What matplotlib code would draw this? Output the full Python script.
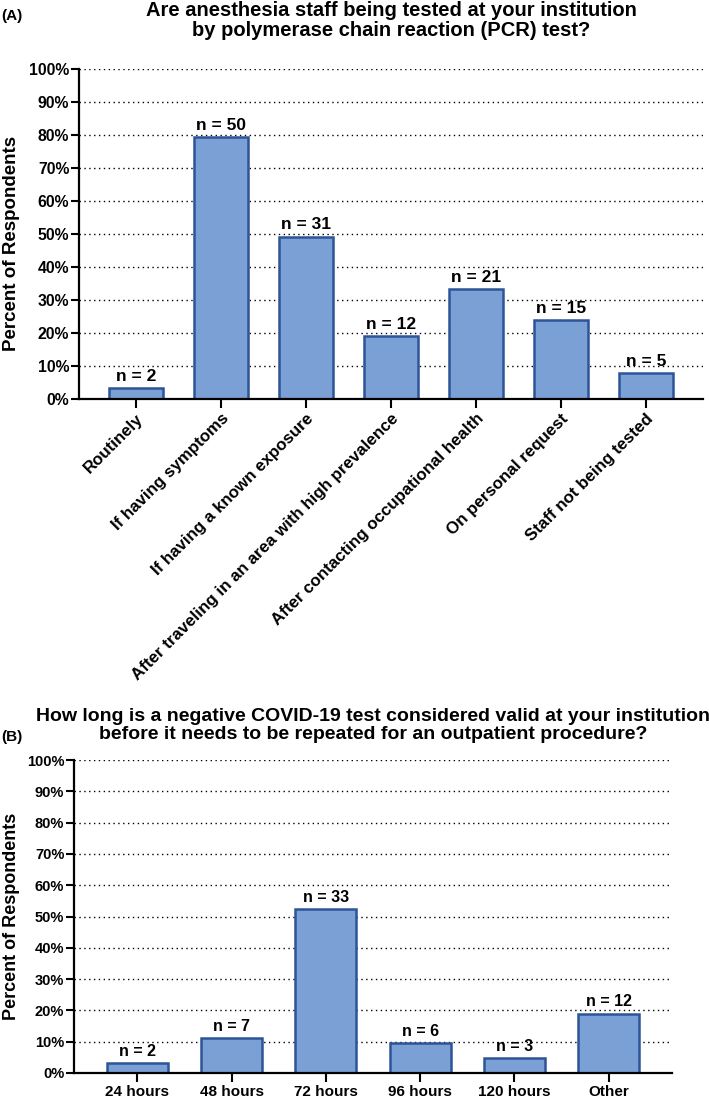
import matplotlib
matplotlib.use('Agg')
import matplotlib.pyplot as plt
from matplotlib.ticker import PercentFormatter

plt.rcParams['font.family'] = ['Liberation Sans', 'DejaVu Sans']
plt.rcParams['font.weight'] = 'bold'

# panel A data
labels_a = ['Routinely', 'If having symptoms', 'If having a known exposure',
            'After traveling in an area with high prevalence',
            'After contacting occupational health', 'On personal request',
            'Staff not being tested']
counts_a = [2, 50, 31, 12, 21, 15, 5]
pct_a = [3.2, 79.4, 49.2, 19.0, 33.3, 23.8, 7.9]

# panel B data
labels_b = ['24 hours', '48 hours', '72 hours', '96 hours', '120 hours', 'Other']
counts_b = [2, 7, 33, 6, 3, 12]
pct_b = [3.2, 11.1, 52.4, 9.5, 4.8, 19.0]

title_a = 'Are anesthesia staff being tested at your institution\nby polymerase chain reaction (PCR) test?'
title_b = ('How long is a negative COVID-19 test considered valid at your institution\n'
           'before it needs to be repeated for an outpatient procedure?')

fill = '#7ba0d5'
edge = '#2c5497'

W, H = 709, 1098
fig = plt.figure(figsize=(W / 100, H / 100), dpi=100)


def px_axes(left, right, top, bottom):
    return fig.add_axes([left / W, 1 - bottom / H, (right - left) / W, (bottom - top) / H])


def style(ax, n, ytick_fs, xtick_fs):
    ax.set_ylim(0, 100)
    ax.set_yticks(range(0, 101, 10))
    ax.yaxis.set_major_formatter(PercentFormatter(decimals=0))
    ax.set_xlim(-0.67, n - 1 + 0.67)
    for s in ['top', 'right']:
        ax.spines[s].set_visible(False)
    for s in ['left', 'bottom']:
        ax.spines[s].set_linewidth(1.6)
    ax.tick_params(axis='y', length=6, width=1.5, pad=1, labelsize=ytick_fs)
    ax.tick_params(axis='x', length=6.5, width=1.5, pad=2, labelsize=xtick_fs)
    for v in range(10, 101, 10):
        ax.axhline(v, color='black', lw=1.0, ls=(0, (1, 2.5)), zorder=0)


# ---- panel A ----
ax1 = px_axes(79, 703, 69, 399)
x_a = range(len(labels_a))
ax1.bar(x_a, pct_a, width=0.645, color=fill, edgecolor=edge, linewidth=1.8, zorder=2)
style(ax1, len(labels_a), 11.3, 12.2)
ax1.set_xticks(list(x_a))
ax1.set_xticklabels(labels_a, rotation=45, ha='right', rotation_mode='anchor')
for xi, p, c in zip(x_a, pct_a, counts_a):
    ax1.annotate(f'n = {c}', (xi, p), xytext=(0, 3), textcoords='offset points',
                 ha='center', va='bottom', fontsize=12.5, fontweight='bold')
ax1.set_ylabel('Percent of Respondents', fontsize=13.5, fontweight='bold')
ax1.yaxis.set_label_coords(-0.094, 0.47)
fig.text(391 / W, 1 - 1 / H, title_a, ha='center', va='top', fontsize=14.5,
         fontweight='bold', linespacing=1.1)
fig.text(1 / W, 1 - 9 / H, '(A)', ha='left', va='top', fontsize=11, fontweight='bold')

# ---- panel B ----
ax2 = px_axes(74, 672, 760, 1073)
x_b = range(len(labels_b))
ax2.bar(x_b, pct_b, width=0.65, color=fill, edgecolor=edge, linewidth=1.8, zorder=2)
style(ax2, len(labels_b), 10.5, 11)
ax2.set_xticks(list(x_b))
ax2.set_xticklabels(labels_b)
for xi, p, c in zip(x_b, pct_b, counts_b):
    ax2.annotate(f'n = {c}', (xi, p), xytext=(0, 3), textcoords='offset points',
                 ha='center', va='bottom', fontsize=11.5, fontweight='bold')
ax2.set_ylabel('Percent of Respondents', fontsize=13, fontweight='bold')
ax2.yaxis.set_label_coords(-0.09, 0.5)
fig.text(373 / W, 1 - 708 / H, title_b, ha='center', va='top', fontsize=14,
         fontweight='bold', linespacing=1.1)
fig.text(1 / W, 1 - 730 / H, '(B)', ha='left', va='top', fontsize=11, fontweight='bold')

fig.savefig('out.png', dpi=100)
